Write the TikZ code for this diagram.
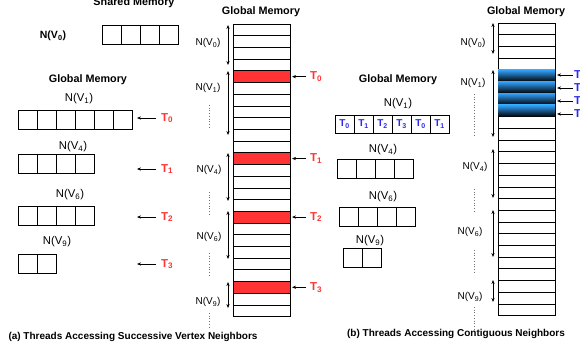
\documentclass[tikz,border=0pt]{standalone}
\usepackage{fontspec}
\setmainfont{Liberation Sans}
\usetikzlibrary{arrows.meta}
\definecolor{hotred}{HTML}{FF3333}
\definecolor{thblue}{HTML}{2A2AEE}
\newcommand{\nv}[1]{N(V\textsubscript{#1})}

\begin{document}
\begin{tikzpicture}[x=1pt,y=-1pt,
 >={Stealth[length=4pt,width=3.2pt]},
 lbl/.style={font=\fontsize{10}{11}\selectfont,inner sep=0pt},
 albl/.style={font=\fontsize{11.3}{12}\selectfont,inner sep=0pt},
 ttl/.style={font=\bfseries\fontsize{10.8}{12}\selectfont,inner sep=0pt},
 captxt/.style={font=\bfseries\fontsize{10}{11}\selectfont,inner sep=0pt},
 tred/.style={font=\bfseries\fontsize{11.5}{12}\selectfont,text=hotred,anchor=west,inner sep=0pt},
 tblu/.style={font=\bfseries\fontsize{10}{11}\selectfont,text=thblue,inner sep=0pt},
 cell/.style={draw=black,line width=0.6pt},
 span/.style={<->,line width=0.6pt},
 dots/.style={dotted,line width=0.7pt,black!55},
 tarr/.style={->,line width=0.6pt}]
 \useasboundingbox (0,0) rectangle (580,350);

 % (a) shared memory
 \node[ttl] (shtitle) at (134,3) {Shared Memory};
 \node[font=\bfseries\fontsize{10.5}{11}\selectfont] (nv0) at (53,36) {\nv{0}};
 \foreach \i in {0,...,3}
  \draw[cell] (102+19*\i,25) rectangle ++(19,19);

 % (a) global memory, one array per vertex
 \node[ttl] (gtitle) at (88,80) {Global Memory};
 \node[albl] (la1) at (79,99) {\nv{1}};
 \node[albl] (la4) at (73,147) {\nv{4}};
 \node[albl] (la6) at (70,195) {\nv{6}};
 \node[albl] (la9) at (57,242) {\nv{9}};
 \foreach \i in {0,...,5}
  \draw[cell] (18+19*\i,110) rectangle ++(19,19);
 \foreach \i in {0,...,3}
  \draw[cell] (18+19*\i,154) rectangle ++(19,19);
 \foreach \i in {0,...,3}
  \draw[cell] (18+19*\i,206) rectangle ++(19,19);
 \foreach \i in {0,...,1}
  \draw[cell] (18+19*\i,254) rectangle ++(19,19);
 \foreach \k/\y in {0/118,1/169,2/217,3/264} {
  \node[tred] (ta\k) at (161,\y) {T\textsubscript{\k}};
  \coordinate (pa\k) at (137,\y);
  \draw[tarr] (ta\k.west) ++(-5,0) -- (pa\k);
 }

 % (a) global memory column
 \node[ttl] (gcola) at (261,12) {Global Memory};
 \foreach \r in {0,...,24}
  \draw[cell] (233,24+11.7*\r) rectangle ++(57,11.7);
 \foreach \r in {4,11,16,22}
  \draw[cell,fill=hotred] (233,24+11.7*\r) rectangle ++(57,11.7);
 \foreach \k/\r in {0/4,1/11,2/16,3/22} {
  \node[tred] (tb\k) at (310,24+11.7*\r+5.85) {T\textsubscript{\k}};
  \coordinate (pb\k) at (292,24+11.7*\r+5.85);
  \draw[tarr] (tb\k.west) ++(-4,0) -- (pb\k);
 }
 \foreach \a/\b in {25/65,71/135,153/201,211/259,282/308}
  \draw[span] (228,\a) -- (228,\b);
 \node[lbl] (ca0) at (208,43) {\nv{0}};
 \node[lbl] (ca1) at (208,88) {\nv{1}};
 \node[lbl] (ca4) at (209,170) {\nv{4}};
 \node[lbl] (ca6) at (209,237) {\nv{6}};
 \node[lbl] (ca9) at (208,302) {\nv{9}};
 \foreach \a/\b in {105/128,192/215,253/277,313/329}
  \draw[dots] (209,\a) -- (209,\b);

 % (b) global memory, contiguous access
 \node[ttl] (gtitleb) at (398,80) {Global Memory};
 \node[albl] (lb1) at (398,104) {\nv{1}};
 \node[albl] (lb4) at (383,150) {\nv{4}};
 \node[albl] (lb6) at (383,197) {\nv{6}};
 \node[albl] (lb9) at (370,241) {\nv{9}};
 \foreach \t [count=\i from 0] in {0,1,2,3,0,1} {
  \draw[cell] (335+19*\i,115) rectangle ++(19,18);
  \node[tblu] (cb\i) at (344.5+19*\i,124) {T\textsubscript{\t}};
 }
 \foreach \i in {0,...,3}
  \draw[cell] (337+19*\i,159) rectangle ++(19,19);
 \foreach \i in {0,...,3}
  \draw[cell] (339+19*\i,207) rectangle ++(19,19);
 \foreach \i in {0,...,1}
  \draw[cell] (343+19*\i,248) rectangle ++(19,19);

 % (b) global memory column
 \node[ttl] (gcolb) at (526,12) {Global Memory};
 \foreach \r in {0,...,24}
  \draw[cell] (498,23+11.7*\r) rectangle ++(57,11.7);
 \foreach \r in {4,...,7}
  \shade[top color=blue!45!cyan!80!white,bottom color=black] (498,23+11.7*\r) rectangle ++(57,11.7);
 \foreach \k/\y in {0/75,1/88,2/101,3/114} {
  \node[tred,text=thblue] (tc\k) at (574,\y) {T\textsubscript{\k}};
  \coordinate (pc\k) at (557,\y);
  \draw[tarr] (tc\k.west) ++(-1,0) -- (pc\k);
 }
 \foreach \a/\b in {23/54,70/137,149/198,210/257,280/302}
  \draw[span] (493,\a) -- (493,\b);
 \node[lbl] (cb0) at (473,43) {\nv{0}};
 \node[lbl] (cb1) at (473,83) {\nv{1}};
 \node[lbl] (cb4) at (475,167) {\nv{4}};
 \node[lbl] (cb6) at (470,232) {\nv{6}};
 \node[lbl] (cb9) at (470,297) {\nv{9}};
 \foreach \a/\b in {94/137,189/212,250/273,307/330}
  \draw[dots] (474,\a) -- (474,\b);

 % captions
 \node[captxt] (capa) at (133,337) {(a) Threads Accessing Successive Vertex Neighbors};
 \node[captxt] (capb) at (456,334) {(b) Threads Accessing Contiguous Neighbors};
\end{tikzpicture}
\end{document}
